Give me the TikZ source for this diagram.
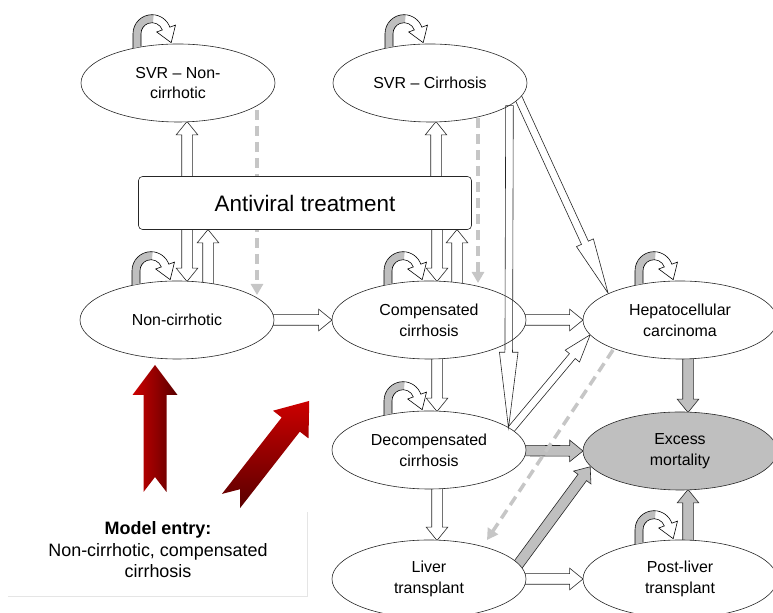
\documentclass[tikz,border=0pt]{standalone}
\usepackage{fontspec}
\setmainfont{Liberation Sans}
\usetikzlibrary{shapes.geometric,shapes.arrows,arrows.meta,calc}
\pgfdeclarelayer{back}
\pgfsetlayers{back,main}

\tikzset{
  state/.style={ellipse, draw=black!85, line width=0.6pt, fill=white, minimum width=194bp, minimum height=78bp,
    inner sep=0pt, align=center, font=\fontsize{16}{21}\selectfont},
  hollow/.style={single arrow, draw=black!85, line width=0.6pt, fill=white, inner xsep=0pt, inner ysep=5bp,
    single arrow head extend=5.5bp, single arrow tip angle=78},
  shaded/.style={hollow, fill=gray!50},
  slim/.style={hollow, inner ysep=3.5bp, single arrow head extend=5.5bp},
  relapse/.style={draw=gray!45, line width=3.5bp, dash pattern=on 10bp off 6bp, -{Triangle[length=11bp, width=12bp]}},
  pics/selfloop/.style={code={
    \fill[gray!50] (-19,-4.4) -- (-19,10) arc[start angle=180, end angle=85, radius=19]
      -- (0.96,20.96) arc[start angle=85, end angle=180, radius=11] -- (-11,-3) -- cycle;
    \fill[white] (17.85,16.5) -- (23.5,18.6) -- (19.2,1) -- (4.7,11.7) -- (10.34,13.76) -- cycle;
    \draw[line width=0.6pt] (-19,-4.4) -- (-19,10) arc[start angle=180, end angle=20, radius=19]
      -- (23.5,18.6) -- (19.2,1) -- (4.7,11.7) -- (10.34,13.76) arc[start angle=20, end angle=180, radius=11] -- (-11,-3);
  }},
  pics/entryarrow/.style={code={
    \path[#1] (0,-11.5) -- (97,-11.5) -- (97,-22.5) -- (127,0)
      -- (97,22.5) -- (97,11.5) -- (0,11.5) -- (15,0) -- cycle;
  }}
}

\newcommand{\blockarrow}[3][hollow]{%
  \path let \p1=($(#3)-(#2)$) in
    node[#1, anchor=tail, rotate={atan2(\y1,\x1)}, minimum height={veclen(\x1,\y1)}] at (#2) {};}

\begin{document}
\begin{tikzpicture}[x=1bp, y=1bp]
\useasboundingbox (0,0) rectangle (773,613);

\node[state] (svrnc) at (178,530) {SVR – Non-\\cirrhotic};
\node[state] (svrc) at (430,530) {SVR – Cirrhosis};
\node[draw=black!85, line width=0.6pt, rounded corners=4bp, fill=white, minimum width=333bp, minimum height=53bp,
  font=\fontsize{22.5}{27}\selectfont] (avt) at (305,410) {Antiviral treatment};
\node[state] (nc) at (177,293) {Non-cirrhotic};
\node[state] (cc) at (429,293) {Compensated\\cirrhosis};
\node[state] (hcc) at (680,293) {Hepatocellular\\carcinoma};
\node[state] (dc) at (429,163) {Decompensated\\cirrhosis};
\node[state, fill=gray!50] (em) at (680,162) {Excess\\mortality};
\node[state] (lt) at (429,34) {Liver\\transplant};
\node[state] (plt) at (680,34) {Post-liver\\transplant};

\begin{pgfonlayer}{back}
\blockarrow{[shift={(-118,0)}]avt.center}{[shift={(9,-38.8)}]svrnc.center}
\blockarrow{[shift={(131,0)}]avt.center}{[shift={(6,-38.9)}]svrc.center}
\blockarrow{[shift={(-118,0)}]avt.center}{[shift={(10,38.8)}]nc.center}
\blockarrow{[shift={(31,0)}]nc.center}{[shift={(-97,0)}]avt.south}
\blockarrow{[shift={(28,0)}]cc.center}{[shift={(152,0)}]avt.south}
\blockarrow{[shift={(132,0)}]avt.center}{[shift={(8,38.8)}]cc.center}
\blockarrow{nc.center}{cc.west}
\blockarrow{cc.center}{hcc.west}
\blockarrow{[shift={(8,0)}]cc.center}{[shift={(8,38.8)}]dc.center}
\blockarrow{[shift={(8,0)}]dc.center}{[shift={(8,38.8)}]lt.center}
\blockarrow{lt.center}{plt.west}
\blockarrow[shaded]{[shift={(8,0)}]hcc.center}{[shift={(8,38.8)}]em.center}
\blockarrow[shaded]{dc.center}{em.west}
\blockarrow[shaded]{[shift={(80,2)}]lt.center}{[shift={(-90,-16)}]em.center}
\blockarrow[shaded]{[shift={(8,0)}]plt.center}{[shift={(8,-38.8)}]em.center}
\blockarrow[slim, single arrow tip angle=19]{[shift={(82,-1)}]svrc.center}{[shift={(-72,27)}]hcc.center}
\blockarrow[slim, single arrow tip angle=37]{[shift={(74,11)}]dc.center}{[shift={(-90,-15)}]hcc.center}
\draw[relapse] ([shift={(79,-27)}]svrnc.center) -- ([shift={(80,25)}]nc.center);
\draw[relapse] ([shift={(48,-35)}]svrc.center) -- ([shift={(49,37)}]cc.center);
\draw[relapse] ([shift={(-67,-30)}]hcc.center) -- ([shift={(58,39)}]lt.center);
\end{pgfonlayer}

\blockarrow[slim, fill=none, single arrow tip angle=14]{[shift={(79.5,-22.3)}]svrc.center}{[shift={(79.5,22.3)}]dc.center}

\foreach \s in {svrnc,svrc,nc,cc,hcc,dc,plt}
  \pic at ([shift={(-26,0)}]\s.north) {selfloop};

\pic[x={(0,1bp)}, y={(-1bp,0)}] at (155bp,121bp) {entryarrow={left color=red!80!black, right color=red!35!black}};
\pic[x={(0.616bp,0.788bp)}, y={(-0.788bp,0.616bp)}] at (231bp,112bp) {entryarrow={top color=red!80!black, bottom color=red!35!black}};

\node[align=center, font=\fontsize{18}{21.5}\selectfont] (entry) at (158,63)
  {\textbf{Model entry:}\\Non-cirrhotic, compensated\\cirrhosis};
\draw[gray!20, line width=1bp] ([shift={(149,38)}]entry.center) -- ([shift={(149,-47)}]entry.center)
  -- ([shift={(-150,-47)}]entry.center);
\end{tikzpicture}
\end{document}
